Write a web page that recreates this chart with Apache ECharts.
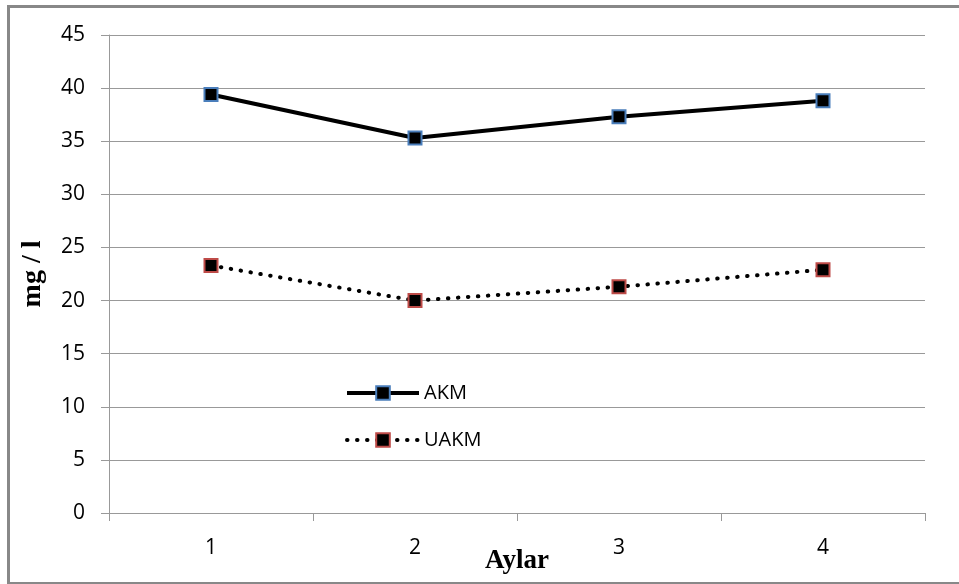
<!DOCTYPE html>
<html>
<head>
<meta charset="utf-8">
<script src="https://cdn.jsdelivr.net/npm/echarts@6/dist/echarts.min.js"></script>
<style>
html, body { margin: 0; padding: 0; background: #fff; }
#main { width: 959px; height: 584px; }
#frame { position: absolute; left: 7px; top: 5px; width: 960px; height: 580px; border: 3px solid #888; box-sizing: border-box; pointer-events: none; }
</style>
</head>
<body>
<div id="main"></div>
<div id="frame"></div>
<script>
var months = ['1', '2', '3', '4'];
var akm = [39.4, 35.3, 37.3, 38.8];
var uakm = [23.3, 20.0, 21.3, 22.9];

var myChart = echarts.init(document.getElementById('main'));
var option = {
	animation: false,
	grid: {
		left: 109,
		right: 34,
		top: 35,
		bottom: 71,
		outerBoundsMode: 'none',
		containLabel: false
	},
	legend: {
		orient: 'vertical',
		left: 340,
		top: 378,
		itemWidth: 72,
		itemHeight: 17,
		itemGap: 27,
		textStyle: {
			fontFamily: 'Open Sans',
			fontSize: 20,
			color: '#000'
		},
		data: [{
			name: 'AKM',
			lineStyle: { width: 4 }
		}, {
			name: 'UAKM',
			lineStyle: { width: 4, type: [0.5, 9.5], cap: 'round' }
		}]
	},
	xAxis: {
		type: 'category',
		data: months,
		boundaryGap: true,
		name: 'Aylar',
		nameLocation: 'middle',
		nameGap: 35,
		nameMoveOverlap: false,
		nameTextStyle: {
			fontFamily: 'Liberation Serif',
			fontWeight: 'bold',
			fontSize: 27,
			color: '#000'
		},
		axisLine: { lineStyle: { color: '#999', width: 1 } },
		axisTick: { show: true, length: 8, lineStyle: { color: '#999' } },
		axisLabel: {
			margin: 25,
			fontFamily: 'Open Sans',
			fontSize: 21,
			color: '#000'
		}
	},
	yAxis: {
		type: 'value',
		min: 0,
		max: 45,
		interval: 5,
		name: 'mg / l',
		nameLocation: 'middle',
		nameRotate: 90,
		nameGap: 62,
		nameMoveOverlap: false,
		nameTextStyle: {
			fontFamily: 'Liberation Serif',
			fontWeight: 'bold',
			fontSize: 28,
			color: '#000'
		},
		axisLine: { show: true, lineStyle: { color: '#999', width: 1 } },
		axisTick: { show: true, length: 8, lineStyle: { color: '#999' } },
		splitLine: { lineStyle: { color: '#999', width: 1 } },
		axisLabel: {
			margin: 24,
			fontFamily: 'Open Sans',
			fontSize: 21,
			color: '#000'
		}
	},
	series: [{
		name: 'AKM',
		type: 'line',
		data: akm,
		symbol: 'rect',
		symbolSize: 13,
		itemStyle: { color: '#000', borderColor: '#4a7ebb', borderWidth: 2 },
		lineStyle: { color: '#000', width: 4 }
	}, {
		name: 'UAKM',
		type: 'line',
		data: uakm,
		symbol: 'rect',
		symbolSize: 13,
		itemStyle: { color: '#000', borderColor: '#be4b48', borderWidth: 2 },
		lineStyle: { color: '#000', width: 4, type: [0.5, 9.5], cap: 'round' }
	}]
};
myChart.setOption(option);
</script>
</body>
</html>
